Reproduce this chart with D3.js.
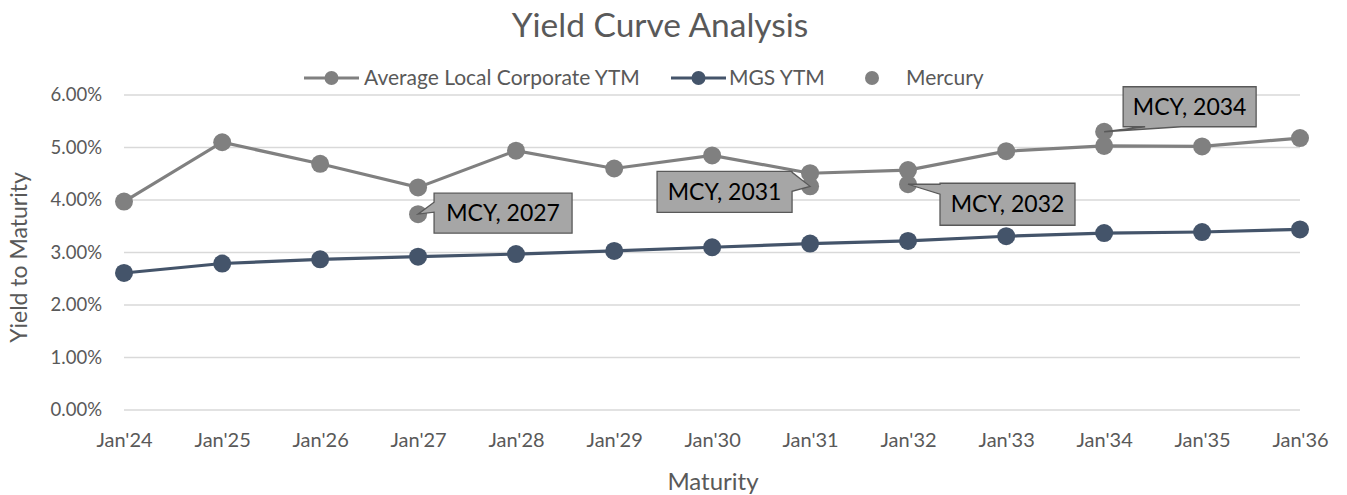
<!DOCTYPE html>
<html>
<head>
<meta charset="utf-8">
<script src="https://cdn.jsdelivr.net/npm/d3@7"></script>
<style>
  body { margin: 0; background: #fff; }
  svg text { font-family: Lato, "Open Sans", sans-serif; }
</style>
</head>
<body>
<div id="chart"></div>
<script>
// maturities (Jan of each year)
var years = [2024, 2025, 2026, 2027, 2028, 2029, 2030, 2031, 2032, 2033, 2034, 2035, 2036];
var corpYtm = [3.97, 5.10, 4.69, 4.24, 4.94, 4.60, 4.85, 4.51, 4.57, 4.93, 5.03, 5.02, 5.18];
var mgsYtm = [2.61, 2.79, 2.87, 2.92, 2.97, 3.03, 3.10, 3.17, 3.22, 3.31, 3.37, 3.39, 3.44];
var mercuryYears = [2027, 2031, 2032, 2034];
var mercuryYtm = [3.73, 4.26, 4.30, 5.30];
var mercuryLabels = ["MCY, 2027", "MCY, 2031", "MCY, 2032", "MCY, 2034"];
var yTicks = [0, 1, 2, 3, 4, 5, 6];

var width = 1347, height = 495;
var margin = {top: 95, right: 47, bottom: 85, left: 124};

var svg = d3.select("#chart").append("svg")
    .attr("width", width)
    .attr("height", height);

var x = d3.scaleTime()
    .domain([new Date(2024, 0, 1), new Date(2036, 0, 1)])
    .range([margin.left, width - margin.right]);

var y = d3.scaleLinear()
    .domain([0, 6])
    .range([height - margin.bottom, margin.top]);

var textColor = "#595959";
var corpColor = "#808080";
var mgsColor = "#44546a";

// gridlines
svg.append("g")
  .selectAll("line")
  .data(yTicks)
  .enter().append("line")
    .attr("x1", margin.left)
    .attr("x2", width - margin.right)
    .attr("y1", function(d) { return y(d); })
    .attr("y2", function(d) { return y(d); })
    .attr("stroke", "#d9d9d9")
    .attr("stroke-width", 1.3);

// y axis labels
var yAxis = d3.axisLeft(y)
    .tickValues(yTicks)
    .tickSize(0)
    .tickPadding(22)
    .tickFormat(function(d) { return d.toFixed(2) + "%"; });
var gy = svg.append("g")
    .attr("transform", "translate(" + margin.left + ",0)")
    .call(yAxis);
gy.select(".domain").remove();
gy.selectAll("text").attr("fill", textColor).style("font-size", "18.5px");

// x axis labels
var xAxis = d3.axisBottom(x)
    .tickValues(years.map(function(yr) { return new Date(yr, 0, 1); }))
    .tickSize(0)
    .tickPadding(23)
    .tickFormat(function(d) { return "Jan'" + String(d.getFullYear()).slice(2); });
var gx = svg.append("g")
    .attr("transform", "translate(0," + (height - margin.bottom) + ")")
    .call(xAxis);
gx.select(".domain").remove();
gx.selectAll("text").attr("fill", textColor).style("font-size", "20px");

// titles
svg.append("text")
    .attr("x", 660).attr("y", 37)
    .attr("text-anchor", "middle")
    .attr("fill", textColor)
    .style("font-size", "33.5px")
    .text("Yield Curve Analysis");

svg.append("text")
    .attr("x", 713).attr("y", 490)
    .attr("text-anchor", "middle")
    .attr("fill", textColor)
    .style("font-size", "24px")
    .text("Maturity");

svg.append("text")
    .attr("transform", "translate(27," + ((margin.top + height - margin.bottom) / 2 + 5) + ") rotate(-90)")
    .attr("text-anchor", "middle")
    .attr("fill", textColor)
    .style("font-size", "23px")
    .text("Yield to Maturity");

// series
function drawSeries(vals, color) {
  var pts = years.map(function(yr, i) { return {d: new Date(yr, 0, 1), v: vals[i]}; });
  var line = d3.line()
      .x(function(p) { return x(p.d); })
      .y(function(p) { return y(p.v); });
  svg.append("path")
      .datum(pts)
      .attr("d", line)
      .attr("fill", "none")
      .attr("stroke", color)
      .attr("stroke-width", 3.2);
  svg.append("g")
    .selectAll("circle")
    .data(pts)
    .enter().append("circle")
      .attr("cx", function(p) { return x(p.d); })
      .attr("cy", function(p) { return y(p.v); })
      .attr("r", 9)
      .attr("fill", color);
}
drawSeries(corpYtm, corpColor);
drawSeries(mgsYtm, mgsColor);

// mercury points
var mcy = mercuryYears.map(function(yr, i) {
  return {d: new Date(yr, 0, 1), v: mercuryYtm[i], label: mercuryLabels[i]};
});
svg.append("g")
  .selectAll("circle")
  .data(mcy)
  .enter().append("circle")
    .attr("cx", function(p) { return x(p.d); })
    .attr("cy", function(p) { return y(p.v); })
    .attr("r", 9)
    .attr("fill", corpColor);

// callout boxes: box offset from the point, and the side the pointer leaves from
var callouts = [
  {dx: 16, dy: -21, w: 138, h: 40, side: "left", b1: 9, b2: 19},
  {dx: -153, dy: -15, w: 135, h: 41, side: "right", b1: 1, b2: 20},
  {dx: 32, dy: -1, w: 135, h: 42, side: "left", b1: 1, b2: 11},
  {dx: 19, dy: -45, w: 133, h: 40, side: "bottom", b1: 22, b2: 58}
];

function calloutPath(px, py, c) {
  var x0 = px + c.dx, y0 = py + c.dy, x1 = x0 + c.w, y1 = y0 + c.h;
  var p;
  if (c.side === "left") {
    p = [[x0, y0], [x1, y0], [x1, y1], [x0, y1], [x0, y0 + c.b2], [px, py], [x0, y0 + c.b1]];
  } else if (c.side === "right") {
    p = [[x0, y0], [x1, y0], [x1, y0 + c.b1], [px, py], [x1, y0 + c.b2], [x1, y1], [x0, y1]];
  } else {
    p = [[x0, y0], [x1, y0], [x1, y1], [x0 + c.b2, y1], [px, py], [x0 + c.b1, y1], [x0, y1]];
  }
  return "M" + p.join("L") + "Z";
}

mcy.forEach(function(p, i) {
  var px = x(p.d), py = y(p.v), c = callouts[i];
  svg.append("path")
      .attr("d", calloutPath(px, py, c))
      .attr("fill", "#a6a6a6")
      .attr("stroke", "#595959")
      .attr("stroke-width", 1.3);
  svg.append("text")
      .attr("x", px + c.dx + c.w / 2)
      .attr("y", py + c.dy + c.h / 2 + 8)
      .attr("text-anchor", "middle")
      .attr("fill", "#000")
      .style("font-size", "23px")
      .text(p.label);
});

// legend
var legend = svg.append("g").style("font-size", "21px");
function legendLine(x0, x1, color) {
  legend.append("line")
      .attr("x1", x0).attr("x2", x1)
      .attr("y1", 78).attr("y2", 78)
      .attr("stroke", color).attr("stroke-width", 3.2);
  legend.append("circle")
      .attr("cx", (x0 + x1) / 2).attr("cy", 78).attr("r", 7)
      .attr("fill", color);
}
legendLine(304, 359, corpColor);
legend.append("text").attr("x", 364).attr("y", 85).attr("fill", textColor)
    .text("Average Local Corporate YTM");
legendLine(671, 726, mgsColor);
legend.append("text").attr("x", 729).attr("y", 85).attr("fill", textColor)
    .text("MGS YTM");
legend.append("circle").attr("cx", 872).attr("cy", 78).attr("r", 7).attr("fill", corpColor);
legend.append("text").attr("x", 906).attr("y", 85).attr("fill", textColor)
    .text("Mercury");
</script>
</body>
</html>
